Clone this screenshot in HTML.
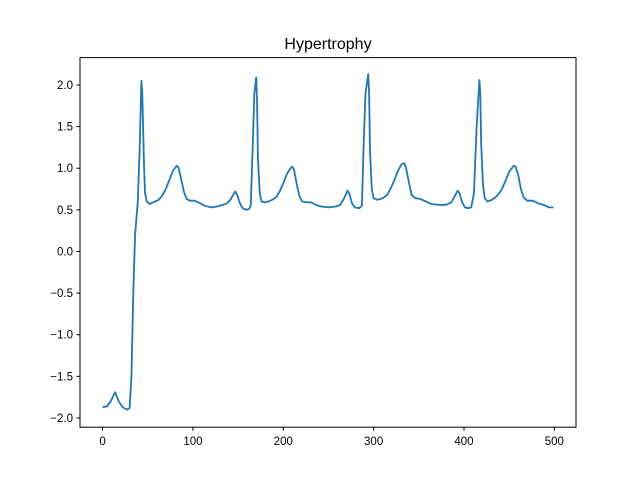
<!DOCTYPE html>
<html><head><meta charset="utf-8"><style>
body{margin:0;background:#fff;}
svg{display:block;font-family:"Liberation Sans","DejaVu Sans",sans-serif;}
</style></head><body>
<svg id="chart" width="640" height="480">
<rect width="640" height="480" fill="#fff"/>
<text x="328" y="49" text-anchor="middle" font-size="16">Hypertrophy</text>
<g id="ticks"></g>
<path id="line" fill="none" stroke="#1f77b4" stroke-width="1.8" stroke-linejoin="round"/>
<rect x="80" y="57.6" width="496" height="369.6" fill="none" stroke="#000" stroke-width="1"/>
</svg>
<script>
const xValues=[0,5,9,14,18,22,27,30,32,34,36,39,41,43,44,46,47,49,52,56,62,66,70,74,78,82,84,87,90,93,97,102,108,113,120,127,133,138,142,145,147,149,152,155,159,162,164,166,168,170,171,172,174,176,180,186,192,196,200,204,208,210,212,215,218,221,226,231,236,242,250,258,263,267,271,273,276,279,284,287,289,291,294,295,296,298,300,304,310,315,319,323,327,331,334,336,339,342,346,352,358,364,372,380,386,390,393,395,398,401,405,408,411,414,417,418,419,421,423,426,431,436,441,446,450,455,457,460,463,466,470,476,482,488,494,499];
const yValues=[-1.87,-1.86,-1.8,-1.69,-1.8,-1.87,-1.9,-1.88,-1.5,-0.5,0.2,0.6,1.2,2.05,1.9,1.0,0.7,0.6,0.57,0.59,0.62,0.67,0.75,0.86,0.97,1.03,1.01,0.87,0.72,0.63,0.61,0.61,0.58,0.55,0.53,0.54,0.56,0.58,0.63,0.69,0.72,0.68,0.58,0.52,0.5,0.51,0.55,1.2,1.9,2.09,1.8,1.1,0.7,0.6,0.59,0.61,0.65,0.72,0.82,0.93,1.0,1.02,0.98,0.8,0.66,0.6,0.59,0.59,0.56,0.54,0.53,0.54,0.56,0.63,0.73,0.7,0.58,0.53,0.52,0.55,1.3,1.9,2.13,1.9,1.2,0.75,0.64,0.62,0.64,0.68,0.76,0.86,0.97,1.05,1.06,1.0,0.83,0.68,0.64,0.63,0.6,0.57,0.56,0.56,0.59,0.67,0.73,0.7,0.59,0.53,0.52,0.53,0.7,1.5,2.06,1.9,1.3,0.8,0.64,0.6,0.62,0.66,0.73,0.85,0.96,1.03,1.02,0.92,0.75,0.65,0.61,0.61,0.58,0.56,0.53,0.53];
const xTicks=[0,100,200,300,400,500];
const yTicks=[-2.0,-1.5,-1.0,-0.5,0.0,0.5,1.0,1.5,2.0];
const xMin=-24.95,xMax=523.95,yMin=-2.111,yMax=2.329;
const L=80,R=576,T=57.6,B=427.2;
function sx(v){return L+(v-xMin)/(xMax-xMin)*(R-L);}
function sy(v){return B-(v-yMin)/(yMax-yMin)*(B-T);}
const NS="http://www.w3.org/2000/svg";
const g=document.getElementById('ticks');
function mk(tag,attrs){const e=document.createElementNS(NS,tag);for(const k in attrs)e.setAttribute(k,attrs[k]);g.appendChild(e);return e;}
xTicks.forEach(t=>{
  const x=sx(t);
  const l=mk('line',{x1:x,x2:x,y1:B,y2:B+3.5,stroke:'#000'});
  
  
  const tx=mk('text',{x:x,y:B+18,'text-anchor':'middle','font-size':'11.5'});
  tx.textContent=String(t);
  
  
});
yTicks.forEach(t=>{
  const y=sy(t);
  const l=mk('line',{x1:L-3.5,x2:L,y1:y,y2:y,stroke:'#000'});
  
  
  const tx=mk('text',{x:L-7,y:y+4,'text-anchor':'end','font-size':'11.5'});
  tx.textContent=(t<0?'\u2212':'')+Math.abs(t).toFixed(1);
  
  
});
let d='';
xValues.forEach((v,i)=>{d+=(i?'L':'M')+sx(v).toFixed(2)+','+sy(yValues[i]).toFixed(2);});
document.getElementById('line').setAttribute('d',d);
</script>
</body></html>
